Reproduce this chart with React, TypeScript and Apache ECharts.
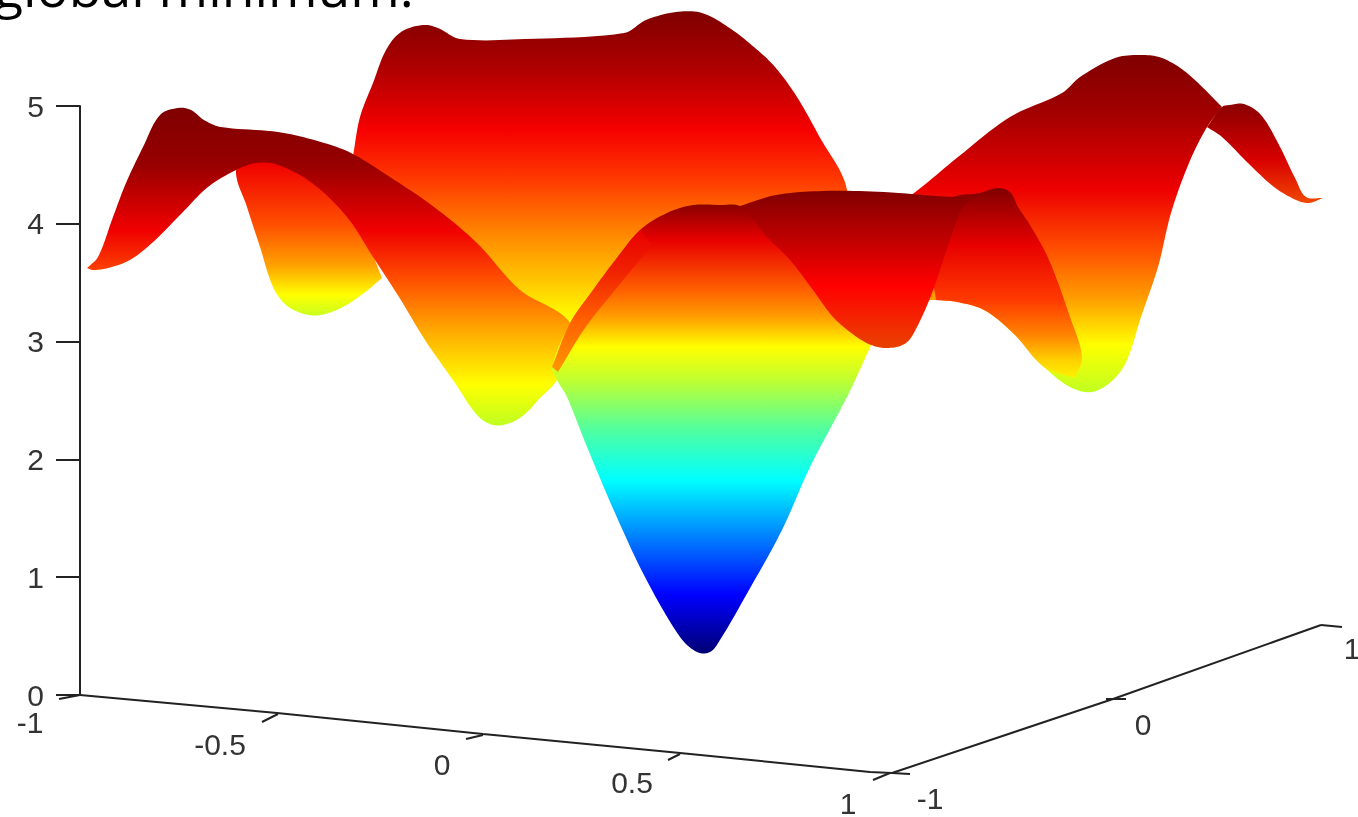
import React, { useEffect, useRef } from "react";
import * as echarts from "echarts";

type Pt = [number, number];
type Stop = [number, string];

// Values on the projected picture plane (horizontal, vertical).
const backRidge: Pt[] = [[353,156],[360,117],[373,83],[386,50],[401,32],[423,25],[438,28],[460,39],[525,39],[624,33],[646,20],[676,12],[702,13],[728,27],[754,47],[775,67],[797,97],[819,136],[847,190],[845,280],[800,280],[700,300],[590,312],[568,322],[520,295],[477,248],[434,212],[390,182]];
const rightLobe: Pt[] = [[914,193],[958,157],[1010,117],[1062,93],[1080,77],[1115,58],[1141,55],[1162,58],[1187,73],[1222,107],[1207,127],[1189,163],[1171,213],[1158,267],[1141,317],[1127,360],[1113,380],[1092,392],[1070,387],[1044,367],[1013,333],[984,310],[957,302],[936,300],[925,300],[900,200]];
const rightFold: Pt[] = [[950,200],[980,193],[997,188],[1010,192],[1018,207],[1030,225],[1049,260],[1070,317],[1082,357],[1075,378],[1044,367],[1013,333],[984,310],[957,302],[936,300],[930,250]];
const rightTail: Pt[] = [[1207,127],[1222,107],[1230,105],[1244,104],[1261,115],[1278,143],[1296,180],[1306,197],[1323,198],[1309,203],[1296,200],[1274,187],[1248,163],[1222,137]];
const leftLobe: Pt[] = [[236,170],[247,207],[260,247],[273,287],[286,305],[304,314],[321,315],[343,307],[364,293],[382,278],[340,180],[290,150],[250,150]];
const leftRidge: Pt[] = [[87,268],[98,257],[113,217],[126,183],[143,147],[160,115],[178,108],[191,110],[204,120],[221,127],[278,132],[321,142],[351,153],[390,177],[434,207],[477,243],[520,290],[568,320],[570,345],[557,380],[540,398],[525,414],[510,423],[493,425],[477,415],[455,383],[425,340],[399,297],[373,257],[347,217],[312,183],[278,165],[256,163],[236,170],[208,187],[182,213],[152,243],[130,260],[108,268],[93,270]];
const frontBasin: Pt[] = [[557,380],[552,367],[570,323],[593,290],[613,263],[640,230],[667,213],[693,205],[720,205],[737,205],[750,212],[772,228],[800,255],[825,287],[845,312],[862,330],[872,343],[863,363],[847,397],[810,467],[782,530],[749,590],[720,640],[710,652],[697,652],[680,637],[645,577],[615,513],[587,447],[567,397]];
const basinLip: Pt[] = [[552,367],[570,323],[593,290],[613,263],[640,230],[652,245],[615,290],[585,328],[558,372]];
const middleSheet: Pt[] = [[737,207],[776,195],[823,191],[884,192],[958,197],[980,193],[963,207],[950,240],[932,293],[917,327],[906,343],[889,348],[871,345],[854,335],[833,317],[813,290],[790,260],[767,237],[750,216]];

const backStops: Stop[] = [[12,"#7f0000"],[70,"#b00000"],[130,"#f60000"],[180,"#ff3a00"],[240,"#ff9000"],[285,"#ffcc00"],[318,"#ffff00"]];
const rightStops: Stop[] = [[55,"#800000"],[110,"#a00000"],[190,"#ee0000"],[250,"#ff5000"],[300,"#ffa000"],[345,"#ffff00"],[392,"#c0ff20"]];
const foldStops: Stop[] = [[188,"#800000"],[245,"#e80000"],[300,"#ff3a00"],[335,"#ff8400"],[360,"#ffd000"],[385,"#ffff00"]];
const tailStops: Stop[] = [[104,"#8a0000"],[160,"#d80000"],[203,"#f04800"]];
const lobeStops: Stop[] = [[163,"#f00000"],[225,"#ff5000"],[265,"#ffa000"],[295,"#ffff00"],[316,"#c8ff20"]];
const ridgeStops: Stop[] = [[108,"#7f0000"],[165,"#980000"],[230,"#f00000"],[280,"#ff5000"],[335,"#ffb000"],[385,"#ffff00"],[425,"#c0ff20"]];
const basinStops: Stop[] = [[205,"#8b0000"],[240,"#e80000"],[290,"#ff6000"],[318,"#ffa000"],[347,"#ffff00"],[380,"#c0ff30"],[430,"#50ffa0"],[480,"#00ffff"],[530,"#0090ff"],[595,"#0000ff"],[655,"#00006f"]];
const lipStops: Stop[] = [[230,"#e80000"],[270,"#f02000"],[320,"#ff6000"],[372,"#ff9800"]];
const middleStops: Stop[] = [[190,"#800000"],[240,"#c00000"],[285,"#ff0000"],[330,"#f03000"],[348,"#e84000"]];

const sheets: [Pt[], Stop[]][] = [
  [backRidge, backStops],
  [rightLobe, rightStops],
  [rightFold, foldStops],
  [rightTail, tailStops],
  [leftLobe, lobeStops],
  [leftRidge, ridgeStops],
  [frontBasin, basinStops],
  [basinLip, lipStops],
  [middleSheet, middleStops],
];

const frontAxis: Pt[] = [[80,695],[277,713],[483,734],[680,753],[870,772],[892,773]];
const sideAxis: Pt[] = [[892,773],[1113,699],[1321,625]];
const axisTicks: Pt[][] = [
  [[59,699],[80,695]],
  [[262,722],[278,714]],
  [[466,739],[483,735]],
  [[668,760],[680,754]],
  [[873,780],[890,773]],
  [[892,773],[910,774]],
  [[1106,699],[1126,699]],
  [[1321,625],[1342,627]],
];
const axisLabels: [number, number, string][] = [
  [30,722,"-1"],[220,744,"-0.5"],[442,764,"0"],[632,782,"0.5"],[848,803,"1"],
  [930,798,"-1"],[1143,724,"0"],[1352,648,"1"],
];
const heightTicks = { min: 0, max: 5, interval: 1 };
const headline = "global minimum:";

const ink = "#222222";

// Rounds an outline through its read points, keeping sharp corners sharp.
function roundOutline(points: number[][]): number[][] {
  const n = points.length;
  const out: number[][] = [];
  const unit = (a: number[], b: number[]) => {
    const dx = b[0] - a[0], dy = b[1] - a[1];
    const l = Math.hypot(dx, dy) || 1;
    return [dx / l, dy / l];
  };
  const tangents = points.map((p, i) => {
    const prev = points[(i + n - 1) % n], next = points[(i + 1) % n];
    const u = unit(prev, p), v = unit(p, next);
    const corner = u[0] * v[0] + u[1] * v[1] < 0.55;
    return { inDir: corner ? u : unit(prev, next), outDir: corner ? v : unit(prev, next) };
  });
  for (let i = 0; i < n; i++) {
    const a = points[i], b = points[(i + 1) % n];
    const len = Math.hypot(b[0] - a[0], b[1] - a[1]);
    const m0 = tangents[i].outDir, m1 = tangents[(i + 1) % n].inDir;
    for (let k = 0; k < 10; k++) {
      const t = k / 10, t2 = t * t, t3 = t2 * t;
      const h00 = 2 * t3 - 3 * t2 + 1, h10 = t3 - 2 * t2 + t, h01 = -2 * t3 + 3 * t2, h11 = t3 - t2;
      out.push([
        h00 * a[0] + h10 * len * m0[0] + h01 * b[0] + h11 * len * m1[0],
        h00 * a[1] + h10 * len * m0[1] + h01 * b[1] + h11 * len * m1[1],
      ]);
    }
  }
  return out;
}

function sheetSeries(outline: Pt[], stops: Stop[]) {
  return {
    type: "custom",
    xAxisIndex: 1,
    yAxisIndex: 1,
    silent: true,
    clip: false,
    data: outline,
    encode: { x: 0, y: 1 },
    renderItem: (params: any, api: any) => {
      if (params.dataIndex !== 0) return undefined;
      const points = roundOutline(outline.map((p) => api.coord(p)));
      const y0 = api.coord([0, stops[0][0]])[1];
      const y1 = api.coord([0, stops[stops.length - 1][0]])[1];
      const colorStops = stops.map(([y, color]) => ({
        offset: (api.coord([0, y])[1] - y0) / (y1 - y0),
        color,
      }));
      return {
        type: "polygon",
        shape: { points },
        style: { fill: new echarts.graphic.LinearGradient(0, y0, 0, y1, colorStops, true) },
      };
    },
  };
}

function inkLine(data: Pt[], width: number) {
  return {
    type: "line",
    xAxisIndex: 1,
    yAxisIndex: 1,
    silent: true,
    symbol: "none",
    data,
    lineStyle: { color: ink, width },
  };
}

export default function App() {
  const ref = useRef<HTMLDivElement>(null);
  useEffect(() => {
    document.body.style.margin = "0";
    document.body.style.overflow = "hidden";
    const chart = echarts.init(ref.current!, undefined, { renderer: "svg" });
    chart.setOption({
      animation: false,
      backgroundColor: "#ffffff",
      grid: [
        { left: 80, top: 106, width: 10, height: 589 },
        { left: 0, top: 0, right: 0, bottom: 0 },
      ],
      xAxis: [
        { type: "value", gridIndex: 0, show: false, min: 0, max: 1 },
        { type: "value", gridIndex: 1, show: false, min: 0, max: 1358 },
      ],
      yAxis: [
        {
          type: "value",
          gridIndex: 0,
          min: heightTicks.min,
          max: heightTicks.max,
          interval: heightTicks.interval,
          splitLine: { show: false },
          axisLine: { show: true, lineStyle: { color: ink, width: 2 } },
          axisTick: { show: true, length: 24, lineStyle: { color: ink, width: 2 } },
          axisLabel: { margin: 36, fontFamily: "Liberation Sans", fontSize: 30, color: "#333333" },
        },
        { type: "value", gridIndex: 1, show: false, min: 0, max: 817, inverse: true },
      ],
      graphic: [
        {
          type: "text",
          x: -6,
          y: -41,
          silent: true,
          style: { text: headline, font: '53.5px "Open Sans"', fill: "#000000" },
        },
      ],
      series: [
        ...sheets.map(([o, s]) => sheetSeries(o, s)),
        inkLine(frontAxis, 2),
        inkLine(sideAxis, 2),
        ...axisTicks.map((t) => inkLine(t, 2)),
        {
          type: "scatter",
          xAxisIndex: 1,
          yAxisIndex: 1,
          silent: true,
          symbolSize: 0,
          itemStyle: { opacity: 1 },
          data: axisLabels.map(([x, y, name]) => ({ value: [x, y], name })),
          label: {
            show: true,
            position: "inside",
            formatter: "{b}",
            fontFamily: "Liberation Sans",
            fontSize: 30,
            color: "#333333",
          },
        },
      ],
    });
    return () => chart.dispose();
  }, []);
  return <div ref={ref} style={{ width: 1358, height: 817, filter: "blur(0.6px)" }} />;
}
